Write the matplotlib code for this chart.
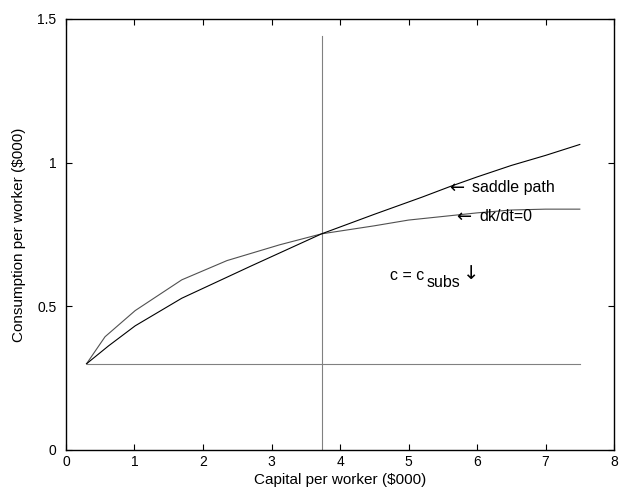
"""
Ramsey growth model phase diagram: dk/dt=0 locus and saddle path
"""
import numpy as np
import matplotlib
matplotlib.use('Agg')
import matplotlib.pyplot as plt

plt.rcParams['font.family'] = ['Liberation Sans', 'DejaVu Sans']

# dk/dt = 0 locus
k_locus = [0.3, 0.57, 1.01, 1.69, 2.35, 3.12, 3.73, 4.5, 5.0, 5.6, 6.0, 6.5, 7.0, 7.5]
c_locus = [0.3, 0.394, 0.485, 0.592, 0.659, 0.714, 0.752, 0.78, 0.80, 0.815, 0.825, 0.835, 0.838, 0.838]

# saddle path
k_saddle = [0.3, 0.62, 1.01, 1.69, 2.7, 3.73, 4.5, 5.2, 5.61, 6.0, 6.5, 7.0, 7.5]
c_saddle = [0.3, 0.362, 0.432, 0.528, 0.64, 0.752, 0.82, 0.88, 0.917, 0.95, 0.99, 1.025, 1.063]

# steady state capital and subsistence consumption
k_star = 3.73
k_star_top = 1.44
c_subs = 0.3
k_range = [0.3, 7.5]

TXT = 11.5
ARROW = dict(family='DejaVu Sans', fontsize=13, va='center', ha='left',
             textcoords='offset points')


def plot_figure():
    fig = plt.figure(figsize=(6.19, 4.97), dpi=100)
    ax = fig.add_axes([0.1066, 0.0946, 0.8854, 0.8674])

    ax.plot(k_range, [c_subs, c_subs], color='#808080', lw=0.8)
    ax.plot([k_star, k_star], [0, k_star_top], color='#808080', lw=0.8)
    ax.plot(k_locus, c_locus, color='#505050', lw=0.8)
    ax.plot(k_saddle, c_saddle, color='black', lw=0.8)

    # labels with arrows pointing back at the curves
    ax.text(5.92, 0.913, 'saddle path', fontsize=TXT, va='center')
    ax.annotate('\u2190', xy=(5.92, 0.913), xytext=(-16.5, 0), **ARROW)
    ax.text(6.03, 0.812, 'dk/dt=0', fontsize=TXT, va='center')
    ax.annotate('\u2190', xy=(6.03, 0.812), xytext=(-16.5, 0), **ARROW)

    ax.text(4.73, 0.606, 'c = c', fontsize=TXT, va='center')
    ax.annotate('subs', xy=(4.73, 0.606), xytext=(26.5, -5), textcoords='offset points',
                fontsize=TXT, va='center')
    ax.annotate('\u2193', xy=(4.73, 0.606), xytext=(52.5, 2), family='DejaVu Sans',
                fontsize=14, va='center', textcoords='offset points')

    ax.set_xlim(0, 8)
    ax.set_ylim(0, 1.5)
    ax.set_xticks(np.arange(0, 9, 1))
    ax.set_yticks([0, 0.5, 1, 1.5])
    ax.set_yticklabels(['0', '0.5', '1', '1.5'])
    ax.tick_params(direction='in', top=True, right=True, length=4, labelsize=10)
    ax.tick_params(axis='y', pad=7)
    for s in ax.spines.values():
        s.set_linewidth(1.0)

    ax.set_xlabel('Capital per worker (\\$000)', fontsize=11, labelpad=3)
    ax.set_ylabel('Consumption per worker (\\$000)', fontsize=11, labelpad=8)

    fig.savefig('out.png', dpi=100)


if __name__ == "__main__":
    plot_figure()
